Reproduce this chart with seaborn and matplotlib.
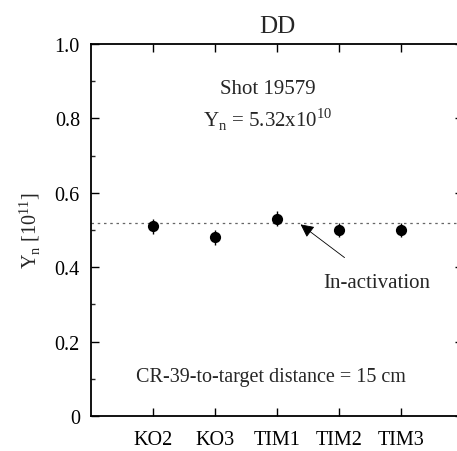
import matplotlib
matplotlib.use("Agg")
import matplotlib.pyplot as plt
import seaborn as sns
import pandas as pd
import numpy as np

categories = ["KO2", "KO3", "TIM1", "TIM2", "TIM3"]
yields = [0.51, 0.48, 0.53, 0.50, 0.50]
errors = [0.02, 0.02, 0.02, 0.02, 0.02]
activation_level = 0.52
ytick_values = [0, 0.2, 0.4, 0.6, 0.8, 1.0]
ytick_labels = ["0", "0.2", "0.4", "0.6", "0.8", "1.0"]

sns.set_theme(style="ticks")
plt.rcParams["font.family"] = ["Liberation Serif", "DejaVu Serif"]
plt.rcParams["mathtext.fontset"] = "custom"
plt.rcParams["mathtext.rm"] = "Liberation Serif"

df = pd.DataFrame({"det": categories, "y": yields, "err": errors})

fig = plt.figure(figsize=(4.57, 4.52), dpi=100)
W, H = 457, 452
x0, x1 = 91, 463
y0, y1 = 417, 45
ax = fig.add_axes([x0 / W, 1 - y0 / H, (x1 - x0) / W, (y0 - y1) / H])

ax.axhline(activation_level, color="#666666", lw=0.9, ls=(0, (2, 3)), zorder=1)
ax.errorbar(range(len(categories)), yields, yerr=errors, fmt="none",
            ecolor="black", elinewidth=1.0, capsize=0, zorder=2)
sns.scatterplot(data=df, x="det", y="y", ax=ax, color="black", s=65,
                edgecolor="black", linewidth=0, zorder=3, legend=False)

ax.set_xlim(-1, 5)
ax.set_ylim(0, 1.0)
ax.set_xticks(range(len(categories)))
ax.set_xticklabels(categories, fontsize=14.5)
ax.set_yticks(ytick_values)
ax.set_yticklabels(ytick_labels, fontsize=14.5)
ax.set_yticks(np.arange(0.1, 1.0, 0.2), minor=True)
ax.tick_params(axis="both", which="major", direction="in", length=6, width=1,
               top=True, right=True, pad=8, colors="black")
ax.tick_params(axis="y", which="minor", direction="in", length=3, width=1,
               left=True, right=True)
ax.tick_params(axis="x", which="major", pad=10)
for s in ax.spines.values():
    s.set_linewidth(1.3)
    s.set_color("black")

ax.set_xlabel("")
ax.set_ylabel(r"Y$_{\mathrm{n}}$ [10$^{11}$]", fontsize=14.5, labelpad=9)
ax.set_title("DD", fontsize=18, pad=9)

ax.text(2 - 0.15, 0.88, "Shot 19579", ha="center", va="center", fontsize=15)
ax.text(2 - 0.15, 0.80, r"Y$_{\mathrm{n}}$ = 5.32x10$^{10}$", ha="center",
        va="center", fontsize=15)
ax.annotate("In-activation", xy=(2.38, 0.515), xytext=(2.75, 0.36),
            ha="left", va="center", fontsize=15,
            arrowprops=dict(arrowstyle="-|>", color="black", lw=0.6,
                            mutation_scale=20, shrinkA=14, shrinkB=0))
ax.text(2 - 0.1, 0.105, "CR-39-to-target distance = 15 cm", ha="center",
        va="center", fontsize=14.5)

fig.savefig("out.png", dpi=100)
